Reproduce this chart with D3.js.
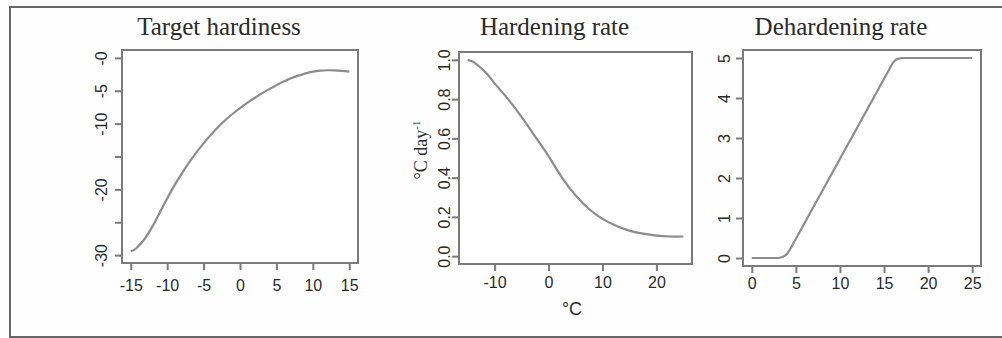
<!DOCTYPE html>
<html>
<head>
<meta charset="utf-8">
<script src="https://cdnjs.cloudflare.com/ajax/libs/d3/7.8.5/d3.min.js"></script>
<style>
  body { margin: 0; background: #fff; }
  svg { display: block; }
</style>
</head>
<body>
<div id="chart"></div>
<script>
// Target hardiness (°C) vs temperature
var hardinessTemp  = [-15, -14.5, -14, -13, -12, -11, -10, -9, -8, -7, -6, -5, -4, -3, -2, -1, 0,
                      1, 2, 3, 4, 5, 6, 7, 8, 9, 10, 11, 12, 13, 14, 15];
var hardinessValue = [-29.4, -29.2, -28.7, -27.4, -25.6, -23.5, -21.4, -19.4, -17.6, -15.95, -14.4, -13.0,
                      -11.7, -10.5, -9.45, -8.5, -7.65, -6.85, -6.1, -5.4, -4.75, -4.15, -3.6, -3.1,
                      -2.7, -2.35, -2.1, -1.95, -1.88, -1.9, -1.98, -2.1];
var hardinessXTicks = [-15, -10, -5, 0, 5, 10, 15];
var hardinessYTicks = [0, -5, -10, -15, -20, -25, -30];
var hardinessYLabels = ["-0", "-5", "-10", "", "-20", "", "-30"];

// Hardening rate (°C day-1)
var hardeningTemp  = [-15, -14, -13, -12, -11, -10, -7.5, -5, -2.5, 0, 2.5, 5, 7.5, 10, 12.5, 15, 17.5, 20, 22.5, 25];
var hardeningValue = [1.00, 0.99, 0.97, 0.945, 0.915, 0.88, 0.80, 0.71, 0.61, 0.51, 0.40, 0.31, 0.24, 0.19, 0.155, 0.13, 0.115, 0.105, 0.10, 0.10];
var hardeningXTicks = [-10, 0, 10, 20];
var hardeningYTicks = [0, 0.2, 0.4, 0.6, 0.8, 1.0];

// Dehardening rate
var dehardeningTemp  = [0, 3, 3.5, 3.9, 4.3, 15.6, 16, 16.4, 17, 25];
var dehardeningValue = [0, 0, 0.025, 0.08, 0.2, 4.72, 4.88, 4.97, 5, 5];
var dehardeningXTicks = [0, 5, 10, 15, 20, 25];
var dehardeningYTicks = [0, 1, 2, 3, 4, 5];

var svg = d3.select("#chart").append("svg")
    .attr("width", 1002)
    .attr("height", 338);

svg.append("rect").attr("width", 1002).attr("height", 338).attr("fill", "#fefefe");

// outer frame
svg.append("path")
    .attr("d", "M1002,7 H10 V337 H1002")
    .attr("fill", "none")
    .attr("stroke", "#666")
    .attr("stroke-width", 2);

var frameColor = "#7a7a7a";
var lineColor = "#8c8c8c";
var textColor = "#2a2a2a";

function pad(ext) {
    var d = (ext[1] - ext[0]) * 0.04;
    return [ext[0] - d, ext[1] + d];
}

function drawPanel(opts) {
    var g = svg.append("g");
    var x = d3.scaleLinear().domain(pad(opts.xRange)).range([opts.left, opts.right]);
    var y = d3.scaleLinear().domain(pad(opts.yRange)).range([opts.bottom, opts.top]);

    // plot box
    g.append("rect")
        .attr("x", opts.left).attr("y", opts.top)
        .attr("width", opts.right - opts.left)
        .attr("height", opts.bottom - opts.top)
        .attr("fill", "#fff")
        .attr("stroke", frameColor)
        .attr("stroke-width", 2);

    // x axis
    var xAxis = g.append("g")
        .attr("transform", "translate(0," + opts.bottom + ")")
        .call(d3.axisBottom(x).tickValues(opts.xTicks).tickSize(7).tickPadding(opts.xPad)
            .tickFormat(function(d) { return String(d); }));
    // y axis
    var yAxis = g.append("g")
        .attr("transform", "translate(" + opts.left + ",0)")
        .call(d3.axisLeft(y).tickValues(opts.yTicks).tickSize(7)
            .tickFormat(function(d, i) { return opts.yLabels ? opts.yLabels[i] : opts.yFormat(d); }));

    [xAxis, yAxis].forEach(function(a) {
        a.select(".domain").remove();
        a.selectAll(".tick line").attr("stroke", frameColor).attr("stroke-width", 2);
        a.selectAll(".tick text")
            .attr("fill", textColor)
            .style("font-family", "'Liberation Sans', Arial, sans-serif")
            .style("font-size", "16px");
    });

    // rotate y tick labels (R las=0)
    yAxis.selectAll(".tick text")
        .attr("x", null).attr("dy", null)
        .attr("text-anchor", "middle")
        .attr("transform", "translate(" + (-opts.yPad) + ",0) rotate(-90)");

    // title
    g.append("text")
        .attr("x", (opts.left + opts.right) / 2 - 21)
        .attr("y", 35)
        .attr("text-anchor", "middle")
        .attr("fill", textColor)
        .style("font-family", "'Liberation Serif', 'Times New Roman', serif")
        .style("font-size", "25px")
        .text(opts.title);

    var line = d3.line()
        .x(function(d) { return x(d[0]); })
        .y(function(d) { return y(d[1]); })
        .curve(opts.curve);

    g.append("path")
        .datum(d3.zip(opts.xs, opts.ys))
        .attr("d", line)
        .attr("fill", "none")
        .attr("stroke", lineColor)
        .attr("stroke-width", 2.2)
        .attr("stroke-linejoin", "round");

    return g;
}

drawPanel({
    title: "Target hardiness",
    left: 122, right: 358, top: 50, bottom: 263,
    xRange: [-15, 15], yRange: [-30, 0], xPad: 10, yPad: 15,
    xTicks: hardinessXTicks, yTicks: hardinessYTicks, yLabels: hardinessYLabels,
    xs: hardinessTemp, ys: hardinessValue, curve: d3.curveCatmullRom
});

var p2 = drawPanel({
    title: "Hardening rate",
    left: 459, right: 692, top: 52, bottom: 264,
    xRange: [-15, 25], yRange: [0, 1], xPad: 6, yPad: 9,
    xTicks: hardeningXTicks, yTicks: hardeningYTicks, yFormat: d3.format(".1f"),
    xs: hardeningTemp, ys: hardeningValue, curve: d3.curveCatmullRom
});

// axis titles for middle panel
p2.append("text")
    .attr("x", 572).attr("y", 315)
    .attr("text-anchor", "middle")
    .attr("fill", textColor)
    .style("font-family", "'Liberation Sans', Arial, sans-serif")
    .style("font-size", "18px")
    .text("°C");

var yl = p2.append("text")
    .attr("transform", "translate(427,150) rotate(-90)")
    .attr("text-anchor", "middle")
    .attr("fill", textColor)
    .style("font-family", "'Liberation Serif', 'Times New Roman', serif")
    .style("font-size", "18px");
yl.append("tspan").text("°C day");
yl.append("tspan").attr("dy", -7).style("font-size", "11px").text("-1");

drawPanel({
    title: "Dehardening rate",
    left: 743, right: 981, top: 50, bottom: 266,
    xRange: [0, 25], yRange: [0, 5], xPad: 5, yPad: 13,
    xTicks: dehardeningXTicks, yTicks: dehardeningYTicks, yFormat: d3.format("d"),
    xs: dehardeningTemp, ys: dehardeningValue, curve: d3.curveLinear
});
</script>
</body>
</html>
